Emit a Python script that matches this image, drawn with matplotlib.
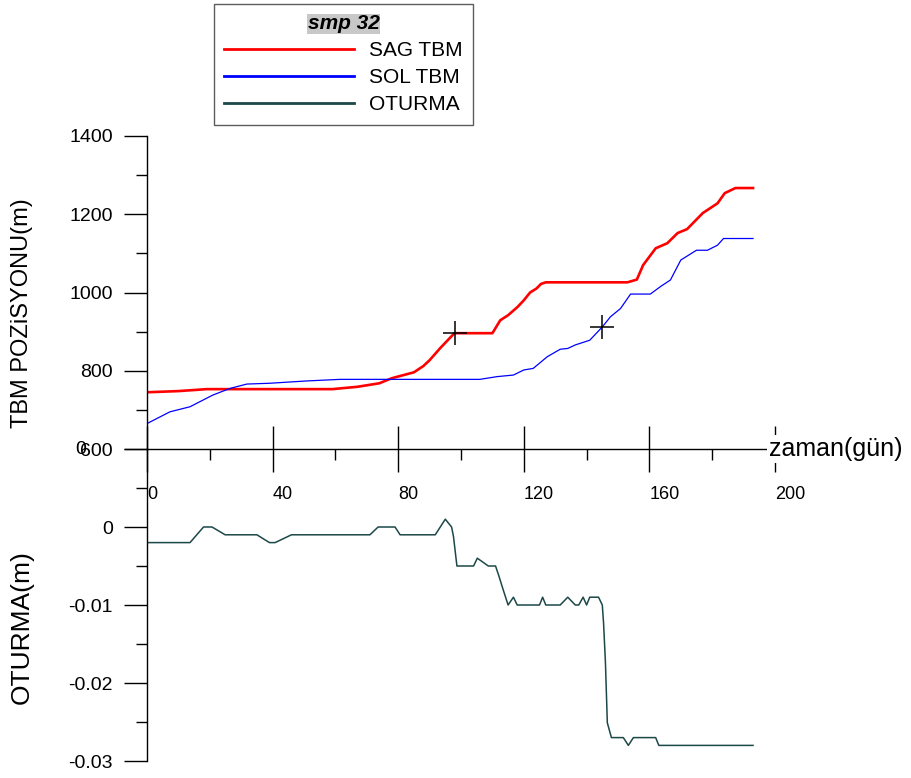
import matplotlib
matplotlib.use("Agg")
import matplotlib.pyplot as plt
from matplotlib.ticker import MultipleLocator, FixedLocator, FixedFormatter

plt.rcParams['font.family'] = ['Liberation Sans', 'DejaVu Sans']

# --- TBM advance (m) versus time (days) ---
t_sag = [0, 10, 19, 40, 59, 67, 74, 78, 85, 88, 90, 93.4, 97.9, 110, 112.5, 115,
         118, 120, 122, 124, 125.5, 127, 153, 156, 158, 162, 165.7, 169, 172,
         177, 181.7, 184, 187.4, 193]
v_sag = [745, 748, 753, 753, 753, 759, 768, 781, 796, 812, 827, 858, 896, 896,
         929, 942, 963, 980, 1000, 1010, 1022, 1026, 1026, 1033, 1070, 1113,
         1126, 1152, 1162, 1203, 1228, 1254, 1267, 1267]

t_sol = [0, 7.3, 13.7, 21, 26.5, 31.8, 39, 51, 61.5, 106, 111.5, 116.7, 120,
         123, 127.5, 131.6, 134, 136.4, 141, 145, 147.6, 150.8, 154, 160.3,
         163.5, 166.7, 170, 175, 178.5, 181.7, 183.6, 193]
v_sol = [665, 695, 708, 738, 755, 766, 768, 774, 778, 778, 785, 789, 802, 806,
         836, 855, 857, 866, 878, 912, 938, 959, 996, 996, 1015, 1032, 1083,
         1108, 1108, 1121, 1138, 1138]

# passage of each TBM under the settlement point
pass_sag = (98, 896)
pass_sol = (145, 912)

# --- settlement (m) at point smp 32 ---
t_otr = [0, 13.7, 18, 20.7, 24.9, 35, 39, 40.8, 46, 71, 73.6, 79, 80.6, 91.8,
         95, 97, 97.6, 98.7, 104, 105.2, 108.7, 111, 112, 113.4, 115, 116.7,
         117.9, 125, 126, 127, 131.6, 134, 136.4, 137.5, 138.9, 140, 141, 143.8,
         145, 145.4, 146, 146.6, 147.9, 151.7, 153.3, 154.9, 162, 163, 193]
v_otr = [-0.002, -0.002, 0, 0, -0.001, -0.001, -0.002, -0.002, -0.001, -0.001,
         0, 0, -0.001, -0.001, 0.001, 0, -0.0012, -0.005, -0.005, -0.004,
         -0.005, -0.005, -0.0062, -0.008, -0.01, -0.009, -0.01, -0.01, -0.009,
         -0.01, -0.01, -0.009, -0.01, -0.01, -0.009, -0.01, -0.009, -0.009,
         -0.01, -0.0123, -0.0174, -0.0251, -0.027, -0.027, -0.028, -0.027,
         -0.027, -0.028, -0.028]

x_ticks = [0, 40, 80, 120, 160, 200]
pos_ticks = [600, 800, 1000, 1200, 1400]
otr_ticks = [-0.03, -0.02, -0.01, 0]
otr_labels = ['-0.03', '-0.02', '-0.01', '0']

W, H = 912, 778
fig = plt.figure(figsize=(W / 100, H / 100), dpi=100)

ax1 = fig.add_axes([147 / W, 1 - 449 / H, 628 / W, 313 / H])
ax2 = fig.add_axes([147 / W, 1 - 761 / H, 628 / W, 312 / H])
for ax in (ax1, ax2):
    ax.patch.set_visible(False)
    ax.set_xlim(0, 200)
    for s in ('top', 'right'):
        ax.spines[s].set_visible(False)
    ax.spines['left'].set_linewidth(1.0)

# lower panel: settlement
ax2.spines['bottom'].set_visible(False)
ax2.xaxis.set_visible(False)
ax2.set_ylim(-0.03, 0.01)
ax2.yaxis.set_major_locator(FixedLocator(otr_ticks + [0.01]))
ax2.yaxis.set_major_formatter(FixedFormatter(otr_labels + ['']))
ax2.yaxis.set_minor_locator(MultipleLocator(0.005))
ax2.tick_params(axis='y', which='major', direction='out', length=16.5, width=1.0,
                labelsize=14, pad=8)
ax2.tick_params(axis='y', which='minor', direction='out', length=8, width=1.0)
l_otr, = ax2.plot(t_otr, v_otr, color='#1c4848', lw=1.1, label='OTURMA')
ax2.annotate('0', xy=(0, 0.01), xycoords=ax2.get_yaxis_transform(),
             xytext=(-44, 0), textcoords='offset points', ha='right',
             va='center', fontsize=14)

# upper panel: TBM positions
ax1.set_ylim(600, 1400)
ax1.yaxis.set_major_locator(FixedLocator(pos_ticks))
ax1.yaxis.set_minor_locator(MultipleLocator(100))
ax1.tick_params(axis='y', which='major', direction='out', length=16.5, width=1.0,
                labelsize=14, pad=8)
ax1.tick_params(axis='y', which='minor', direction='out', length=8, width=1.0)
ax1.xaxis.set_major_locator(FixedLocator(x_ticks))
ax1.xaxis.set_minor_locator(MultipleLocator(20))
ax1.tick_params(axis='x', which='major', direction='inout', length=33, width=1.0,
                labelsize=13, pad=10)
ax1.tick_params(axis='x', which='minor', direction='out', length=8, width=1.0)
for lab in ax1.get_xticklabels():
    lab.set_horizontalalignment('left')
ax1.spines['bottom'].set_linewidth(1.0)

l_sag, = ax1.plot(t_sag, v_sag, color='#ff0000', lw=1.9, label='SAG TBM')
l_sol, = ax1.plot(t_sol, v_sol, color='#0000ff', lw=0.9, label='SOL TBM')
ax1.plot(*pass_sag, marker='+', color='black', ms=17, mew=1.1, clip_on=False)
ax1.plot(*pass_sol, marker='+', color='black', ms=17, mew=1.1, clip_on=False)

ax1.annotate('zaman(gün)', xy=(1.0, 0), xycoords='axes fraction',
             xytext=(-4, 0), textcoords='offset points', ha='left',
             va='center', fontsize=18, zorder=5,
             bbox=dict(facecolor='white', edgecolor='none', pad=1.5))

fig.text(22 / W, 1 - 313 / H, 'TBM POZiSYONU(m)', rotation=90, ha='center',
         va='center', fontsize=17)
fig.text(22 / W, 1 - 627 / H, 'OTURMA(m)', rotation=90, ha='center',
         va='center', fontsize=19)

leg = fig.legend(handles=[l_sag, l_sol, l_otr], loc='upper left',
                 bbox_to_anchor=(214 / W, 1 - 4 / H), fontsize=15,
                 title='smp 32', frameon=True, fancybox=False,
                 edgecolor='#333333', handlelength=6.2, handletextpad=0.75,
                 labelspacing=0.38, borderpad=0.5, borderaxespad=0,
                 title_fontproperties={'weight': 'bold', 'style': 'italic',
                                       'size': 15})
leg.get_frame().set_linewidth(1.0)
leg.get_title().set_bbox(dict(facecolor='#c8c8c8', edgecolor='none', pad=0.5))
for h in leg.legend_handles:
    h.set_linewidth(2.0)

fig.savefig('out.png', dpi=100)
